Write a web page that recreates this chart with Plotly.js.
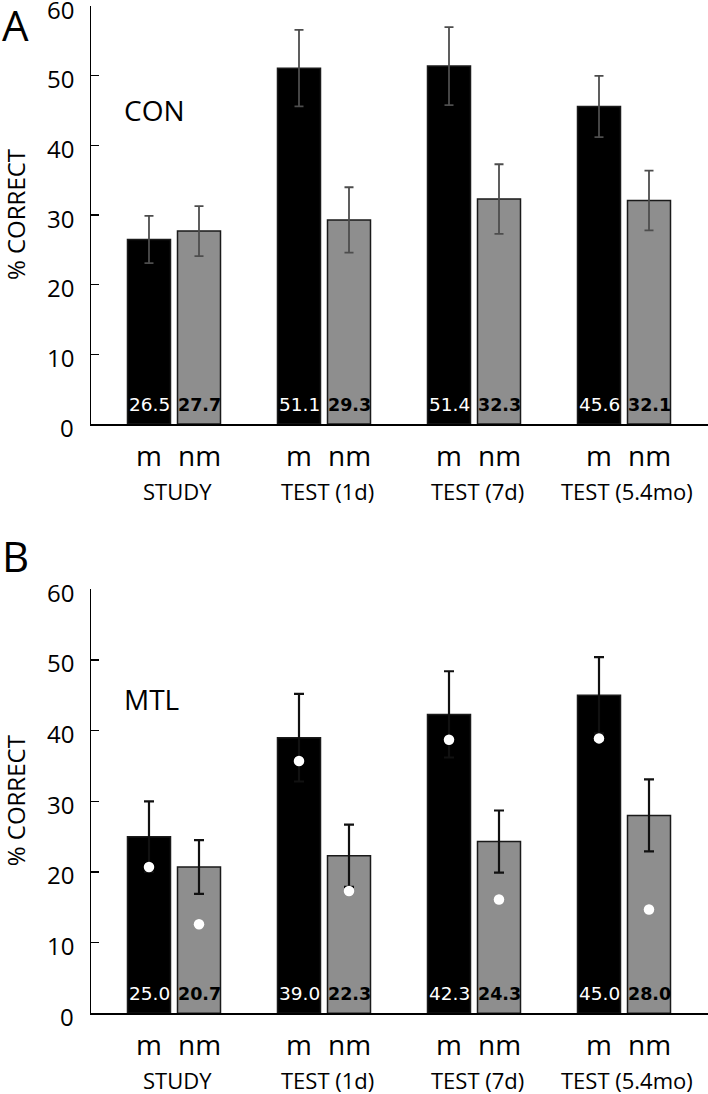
<!DOCTYPE html>
<html>
<head>
<meta charset="utf-8">
<script src="https://cdn.plot.ly/plotly-3.0.1.min.js"></script>
<style>
  html, body { margin: 0; padding: 0; background: #fff; }
  #chart { width: 708px; height: 1094px; }
</style>
</head>
<body>
<div id="chart"></div>
<script>
// ---- data ----
const categories = ["STUDY", "TEST (1d)", "TEST (7d)", "TEST (5.4mo)"];
const barLabels = ["m", "nm"];
const panelLetters = ["A", "B"];
const groupNames = ["CON", "MTL"];

const conM = [26.5, 51.1, 51.4, 45.6];
const conNM = [27.7, 29.3, 32.3, 32.1];
const conMErr = [3.4, 5.5, 5.6, 4.4];
const conNMErr = [3.6, 4.7, 5.0, 4.3];

const mtlM = [25.0, 39.0, 42.3, 45.0];
const mtlNM = [20.7, 22.3, 24.3, 28.0];
const mtlMErr = [5.0, 6.2, 6.1, 5.4];
const mtlNMErr = [3.8, 4.4, 4.4, 5.1];
const mtlMDot = [20.7, 35.7, 38.7, 38.9];
const mtlNMDot = [12.6, 17.3, 16.1, 14.7];

const yTicks = [0, 10, 20, 30, 40, 50, 60];

// ---- styles ----
const FONT = "Open Sans, Noto Sans, sans-serif";
const VALFONT = "DejaVu Sans, Verdana, sans-serif";
const BLACK = "#000000";
const GRAY = "#8e8e8e";
const OUTLINE = "#1a1a1a";
const H = 1094;
const OFF = 25; // px offset of bar centers from group centre

function barTrace(vals, errs, color, xa, ya, name, errStyle) {
  return {
    type: "bar", x: categories, y: vals, name: name,
    xaxis: xa, yaxis: ya, offsetgroup: name,
    marker: { color: color, line: { color: OUTLINE, width: 1.5 } },
    error_y: Object.assign({ type: "data", array: errs, visible: true }, errStyle),
    hoverinfo: "skip"
  };
}

const errA = { color: "#4d4d4d", thickness: 1.8, width: 4.5 };
const errB = { color: "#111111", thickness: 2.2, width: 5 };

const data = [
  barTrace(conM, conMErr, BLACK, "x", "y", "m", errA),
  barTrace(conNM, conNMErr, GRAY, "x", "y", "nm", errA),
  barTrace(mtlM, mtlMErr, BLACK, "x2", "y2", "m", errB),
  barTrace(mtlNM, mtlNMErr, GRAY, "x2", "y2", "nm", errB),
  { type: "scatter", mode: "markers", x: categories, y: mtlMDot, xaxis: "x2", yaxis: "y2",
    offsetgroup: "m", marker: { color: "#ffffff", size: 10.5, line: { width: 0 } }, hoverinfo: "skip" },
  { type: "scatter", mode: "markers", x: categories, y: mtlNMDot, xaxis: "x2", yaxis: "y2",
    offsetgroup: "nm", marker: { color: "#ffffff", size: 10.5, line: { width: 0 } }, hoverinfo: "skip" }
];

function xAxis(anchor) {
  return {
    type: "category", anchor: anchor, domain: [0, 1],
    range: [-0.5533, 3.56],
    showline: true, linecolor: "#000", linewidth: 1.5,
    showticklabels: false, ticks: "", showgrid: false, zeroline: false,
    fixedrange: true
  };
}
function yAxis(anchor, dom) {
  return {
    anchor: anchor, domain: dom, range: [0, 60],
    tickvals: yTicks, showticklabels: false,
    ticks: "inside", ticklen: 8, tickwidth: 1.3, tickcolor: "#000",
    showline: true, linecolor: "#000", linewidth: 1.5,
    showgrid: false, zeroline: false, fixedrange: true
  };
}

const annotations = [];
const panels = [
  { xa: "x", ya: "y", m: conM, nm: conNM },
  { xa: "x2", ya: "y2", m: mtlM, nm: mtlNM }
];
panels.forEach((p, pi) => {
  // y tick labels (slightly below their ticks, as in the reference)
  yTicks.forEach(t => {
    annotations.push({ xref: "paper", yref: p.ya, x: 0, y: t, xshift: -16, yshift: -3,
      xanchor: "right", yanchor: "middle", showarrow: false, text: String(t), borderpad: 0,
      font: { family: FONT, size: 24, color: "#000" } });
  });
  // value labels inside bars
  categories.forEach((c, i) => {
    annotations.push({ xref: p.xa, yref: p.ya, x: c, y: 0, xshift: -OFF, yshift: 7,
      yanchor: "bottom", xanchor: "center", showarrow: false, text: p.m[i].toFixed(1),
      font: { family: VALFONT, size: 18.5, color: "#ffffff" } });
    annotations.push({ xref: p.xa, yref: p.ya, x: c, y: 0, xshift: OFF, yshift: 7,
      yanchor: "bottom", xanchor: "center", showarrow: false, text: "<b>" + p.nm[i].toFixed(1) + "</b>",
      font: { family: VALFONT, size: 17.5, color: "#000000" } });
    // m / nm labels
    [-OFF, OFF].forEach((sh, k) => {
      annotations.push({ xref: p.xa, yref: p.ya + " domain", x: c, y: 0, xshift: sh, yshift: -31,
        yanchor: "middle", xanchor: "center", showarrow: false, text: barLabels[k],
        font: { family: FONT, size: 28, color: "#000" } });
    });
    // group name
    annotations.push({ xref: p.xa, yref: p.ya + " domain", x: c, y: 0, xshift: 3, yshift: -67,
      yanchor: "middle", xanchor: "center", showarrow: false, text: c, borderpad: 0,
      font: { family: FONT, size: 22, color: "#000" } });
  });
  // y axis title
  annotations.push({ xref: "paper", yref: p.ya + " domain", x: 0, y: 0.5, xshift: -76,
    xanchor: "center", yanchor: "middle", textangle: -90, showarrow: false, text: "% CORRECT",
    font: { family: FONT, size: 24, color: "#000" } });
  // group label (CON / MTL)
  annotations.push({ xref: "paper", yref: "paper", x: 0, xshift: 122 - 91,
    y: 1 - (pi === 0 ? 110 : 699) / H, xanchor: "left", yanchor: "middle", showarrow: false,
    text: groupNames[pi], font: { family: FONT, size: 28, color: "#000" } });
  // panel letter
  annotations.push({ xref: "paper", yref: "paper", x: 0, xshift: -90, borderpad: 0,
    y: 1 - (pi === 0 ? 25 : 555) / H, xanchor: "left", yanchor: "middle", showarrow: false,
    text: panelLetters[pi], font: { family: FONT, size: 42, color: "#000" } });
});

const layout = {
  width: 708, height: H,
  margin: { l: 91, r: 0, t: 0, b: 0 },
  paper_bgcolor: "#fff", plot_bgcolor: "rgba(0,0,0,0)",
  showlegend: false,
  barmode: "group", bargap: 0.3333, bargroupgap: 0.14,
  scattermode: "group", scattergap: 0.3333,
  xaxis: xAxis("y"),
  yaxis: yAxis("x", [1 - 424 / H, 1 - 6.2 / H]),
  xaxis2: xAxis("y2"),
  yaxis2: yAxis("x2", [1 - 1013.3 / H, 1 - 589.3 / H]),
  annotations: annotations,
  font: { family: FONT, color: "#000" }
};

Plotly.newPlot("chart", data, layout, { staticPlot: true, displayModeBar: false });
</script>
</body>
</html>
